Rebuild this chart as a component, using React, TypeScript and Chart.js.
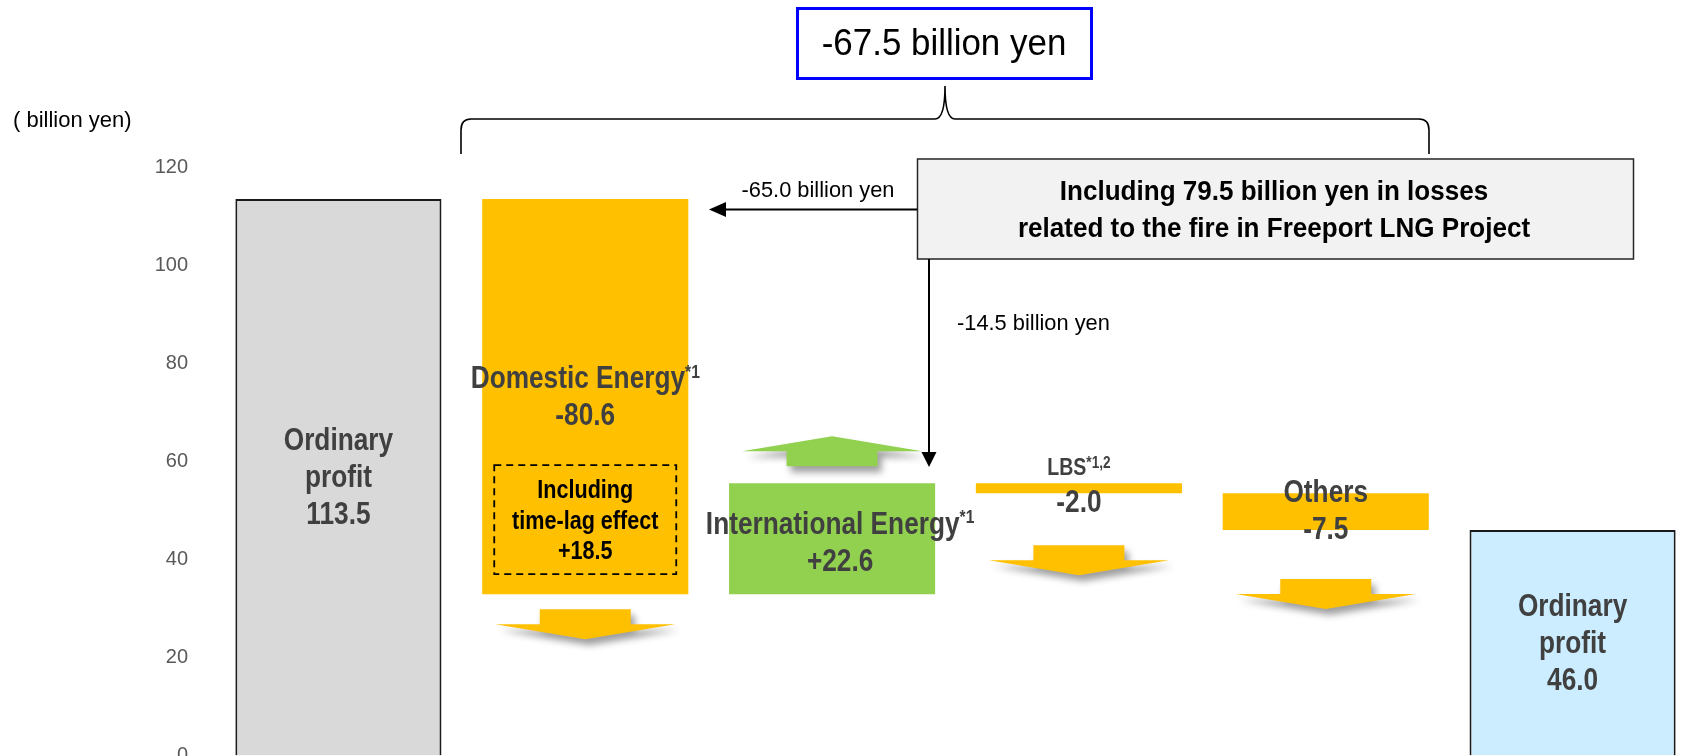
import React, { useEffect, useRef } from 'react';
import { Chart, registerables } from 'chart.js';

Chart.register(...registerables);

// ---------------- data ----------------
const categories = ['Ordinary profit (previous)', 'Domestic Energy', 'International Energy', 'LBS', 'Others', 'Ordinary profit (current)'];
const startProfit = 113.5;
const segmentNames = ['Domestic Energy', 'International Energy', 'LBS', 'Others'];
const segmentNotes = ['*1', '*1', '*1,2', ''];
const segmentDeltas = [-80.6, 22.6, -2.0, -7.5];
const endProfit = 46.0;
const yTickValues = [0, 20, 40, 60, 80, 100, 120];
const freeportSplit = [-65.0, -14.5]; // Domestic, International
const timeLagEffect = 18.5;
const unitLabel = '( billion yen)';

// ---------------- derived ----------------
const fmt = (v: number) => v.toFixed(1);
const signed = (v: number) => (v > 0 ? '+' : '') + v.toFixed(1);
const totalChange = endProfit - startProfit;
const freeportTotal = -(freeportSplit[0] + freeportSplit[1]);

const floating: [number, number][] = [[0, startProfit]];
{
  let run = startProfit;
  for (const d of segmentDeltas) {
    const next = Math.round((run + d) * 10) / 10;
    floating.push([Math.min(run, next), Math.max(run, next)]);
    run = next;
  }
}
floating.push([0, endProfit]);

// ---------------- style ----------------
const FONT = '"Liberation Sans", Arial, Helvetica, sans-serif';
const YELLOW = '#FFC000';
const GREEN = '#92D050';
const LABEL = '#404040';
const barColors = ['#D9D9D9', ...segmentDeltas.map((d) => (d < 0 ? YELLOW : GREEN)), '#CCECFF'];
const barBorders = [2, 0, 0, 0, 0, 2];
const ARROW_GAPS = [15, 17, 52, 49];

function drawText(ctx: CanvasRenderingContext2D, s: string, x: number, y: number, size: number, bold: boolean, color: string, align: CanvasTextAlign = 'center', sx = 1) {
  ctx.save();
  ctx.font = `${bold ? 'bold ' : ''}${size}px ${FONT}`;
  ctx.fillStyle = color;
  ctx.textAlign = align;
  ctx.textBaseline = 'middle';
  ctx.translate(x, y);
  ctx.scale(sx, 1);
  ctx.fillText(s, 0, 0);
  ctx.restore();
}

function textW(ctx: CanvasRenderingContext2D, s: string, size: number, bold: boolean, sx: number) {
  ctx.save();
  ctx.font = `${bold ? 'bold ' : ''}${size}px ${FONT}`;
  const w = ctx.measureText(s).width * sx;
  ctx.restore();
  return w;
}

function drawWithSup(ctx: CanvasRenderingContext2D, main: string, sup: string, cx: number, y: number, size: number, supSize: number, color: string, sx: number) {
  const w1 = textW(ctx, main, size, true, sx);
  const w2 = sup ? textW(ctx, sup, supSize, true, sx) : 0;
  const left = cx - (w1 + w2) / 2;
  drawText(ctx, main, left, y, size, true, color, 'left', sx);
  if (sup) drawText(ctx, sup, left + w1, y - size * 0.22, supSize, true, color, 'left', sx);
}

function blockArrow(ctx: CanvasRenderingContext2D, cx: number, y0: number, dir: number, color: string) {
  const sw = 91, hw = 180, sh = 15, hh = 15;
  ctx.save();
  ctx.shadowColor = 'rgba(0,0,0,0.38)';
  ctx.shadowBlur = 7;
  ctx.shadowOffsetX = 4;
  ctx.shadowOffsetY = 6;
  ctx.fillStyle = color;
  ctx.beginPath();
  ctx.moveTo(cx - sw / 2, y0);
  ctx.lineTo(cx + sw / 2, y0);
  ctx.lineTo(cx + sw / 2, y0 + dir * sh);
  ctx.lineTo(cx + hw / 2, y0 + dir * sh);
  ctx.lineTo(cx, y0 + dir * (sh + hh));
  ctx.lineTo(cx - hw / 2, y0 + dir * sh);
  ctx.lineTo(cx - sw / 2, y0 + dir * sh);
  ctx.closePath();
  ctx.fill();
  ctx.restore();
}

function arrowHead(ctx: CanvasRenderingContext2D, tipX: number, tipY: number, dx: number, dy: number, len: number, half: number) {
  ctx.beginPath();
  ctx.moveTo(tipX, tipY);
  ctx.lineTo(tipX - dx * len - dy * half, tipY - dy * len + dx * half);
  ctx.lineTo(tipX - dx * len + dy * half, tipY - dy * len - dx * half);
  ctx.closePath();
  ctx.fill();
}

const annotations = {
  id: 'waterfallAnnotations',
  afterDatasetsDraw(chart: any) {
    const ctx: CanvasRenderingContext2D = chart.ctx;
    const meta = chart.getDatasetMeta(0);
    const bars = meta.data.map((el: any) => {
      const p = el.getProps(['x', 'y', 'base', 'width'], true);
      return { cx: p.x, w: p.width, top: Math.min(p.y, p.base), bottom: Math.max(p.y, p.base) };
    });

    // block arrows
    segmentDeltas.forEach((d, i) => {
      const b = bars[i + 1];
      if (d < 0) blockArrow(ctx, b.cx, b.bottom + ARROW_GAPS[i], 1, YELLOW);
      else blockArrow(ctx, b.cx, b.top - ARROW_GAPS[i], -1, GREEN);
    });

    const S = 32, SX = 0.82, LH = 37, SUP = 19;
    // totals
    [[0, startProfit], [5, endProfit]].forEach(([idx, v]) => {
      const b = bars[idx];
      const mid = (b.top + b.bottom) / 2 + 1;
      drawText(ctx, 'Ordinary', b.cx, mid - LH, S, true, LABEL, 'center', SX);
      drawText(ctx, 'profit', b.cx, mid, S, true, LABEL, 'center', SX);
      drawText(ctx, fmt(v), b.cx, mid + LH, S, true, LABEL, 'center', SX);
    });

    // Domestic
    {
      const b = bars[1];
      const mid = (b.top + b.bottom) / 2 + 1.5;
      drawWithSup(ctx, segmentNames[0], segmentNotes[0], b.cx, mid - LH / 2, S, SUP, LABEL, SX);
      drawText(ctx, signed(segmentDeltas[0]), b.cx, mid + LH / 2, S, true, LABEL, 'center', SX);
      // dashed box
      ctx.save();
      ctx.strokeStyle = '#000';
      ctx.lineWidth = 1.8;
      ctx.setLineDash([7, 5]);
      ctx.strokeRect(b.cx - 91, b.bottom - 129, 182, 109);
      ctx.restore();
      drawText(ctx, 'Including', b.cx, b.bottom - 103, 26, true, '#000', 'center', 0.83);
      drawText(ctx, 'time-lag effect', b.cx, b.bottom - 72.5, 26, true, '#000', 'center', 0.83);
      drawText(ctx, signed(timeLagEffect), b.cx, b.bottom - 42, 26, true, '#000', 'center', 0.83);
    }
    // International
    {
      const b = bars[2];
      const mid = (b.top + b.bottom) / 2 + 5;
      drawWithSup(ctx, segmentNames[1], segmentNotes[1], b.cx + 8, mid - LH / 2, S, SUP, LABEL, SX);
      drawText(ctx, signed(segmentDeltas[1]), b.cx + 8, mid + LH / 2, S, true, LABEL, 'center', SX);
    }
    // LBS
    {
      const b = bars[3];
      drawWithSup(ctx, segmentNames[2], segmentNotes[2], b.cx, b.top - 15, 23, 16, LABEL, 0.85);
      drawText(ctx, signed(segmentDeltas[2]), b.cx, b.bottom + 10, S, true, LABEL, 'center', SX);
    }
    // Others
    {
      const b = bars[4];
      const mid = (b.top + b.bottom) / 2;
      drawText(ctx, segmentNames[3], b.cx, mid - LH / 2, S, true, LABEL, 'center', SX);
      drawText(ctx, signed(segmentDeltas[3]), b.cx, mid + LH / 2, S, true, LABEL, 'center', SX);
    }

    // unit label
    drawText(ctx, unitLabel, 13, 121, 22, false, '#000', 'left', 1);

    // top total box
    ctx.save();
    ctx.fillStyle = '#fff';
    ctx.fillRect(796, 7.5, 297, 72);
    ctx.strokeStyle = '#0000FF';
    ctx.lineWidth = 3;
    ctx.strokeRect(797.5, 8.5, 294, 70);
    ctx.restore();
    drawText(ctx, `${fmt(totalChange)} billion yen`, 944, 45, 36, false, '#000', 'center', 0.97);

    // brace
    ctx.save();
    ctx.strokeStyle = '#000';
    ctx.lineWidth = 1.6;
    ctx.beginPath();
    ctx.moveTo(461, 154);
    ctx.lineTo(461, 130);
    ctx.quadraticCurveTo(461, 119, 471, 119);
    ctx.lineTo(935, 119);
    ctx.quadraticCurveTo(945, 119, 945, 86);
    ctx.quadraticCurveTo(945, 119, 955, 119);
    ctx.lineTo(1419, 119);
    ctx.quadraticCurveTo(1429, 119, 1429, 130);
    ctx.lineTo(1429, 154);
    ctx.stroke();
    ctx.restore();

    // Freeport box
    ctx.save();
    ctx.fillStyle = '#F2F2F2';
    ctx.fillRect(917, 158.5, 717, 101);
    ctx.strokeStyle = '#262626';
    ctx.lineWidth = 1.5;
    ctx.strokeRect(917.5, 159, 716, 100);
    ctx.restore();
    drawText(ctx, `Including ${fmt(freeportTotal)} billion yen in losses`, 1274, 192, 28, true, '#000', 'center', 0.93);
    drawText(ctx, 'related to the fire in Freeport LNG Project', 1274, 229, 28, true, '#000', 'center', 0.93);

    // split arrows
    ctx.save();
    ctx.strokeStyle = '#000';
    ctx.fillStyle = '#000';
    ctx.lineWidth = 2;
    ctx.beginPath();
    ctx.moveTo(917, 209.5);
    ctx.lineTo(722, 209.5);
    ctx.stroke();
    arrowHead(ctx, 709, 209.5, -1, 0, 17, 7.5);
    ctx.beginPath();
    ctx.moveTo(929, 259);
    ctx.lineTo(929, 454);
    ctx.stroke();
    arrowHead(ctx, 929, 467, 0, 1, 15, 7.5);
    ctx.restore();
    drawText(ctx, `${fmt(freeportSplit[0])} billion yen`, 818, 191, 22.5, false, '#000', 'center', 0.97);
    drawText(ctx, `${fmt(freeportSplit[1])} billion yen`, 957, 324, 22.5, false, '#000', 'left', 0.97);
  },
};

export default function App() {
  const ref = useRef<HTMLCanvasElement>(null);
  useEffect(() => {
    document.body.style.margin = '0';
    const chart = new Chart(ref.current as HTMLCanvasElement, {
      type: 'bar',
      data: {
        labels: categories,
        datasets: [
          {
            data: floating as any,
            backgroundColor: barColors,
            borderColor: '#1a1a1a',
            borderWidth: barBorders,
            borderSkipped: 'bottom',
            categoryPercentage: 1,
            barPercentage: 0.835,
          },
        ],
      },
      options: {
        responsive: false,
        animation: false,
        layout: { padding: { top: 167, bottom: 44.5, left: 0, right: 24 } },
        plugins: { legend: { display: false }, tooltip: { enabled: false } },
        scales: {
          x: { display: false, offset: true, grid: { display: false } },
          y: {
            min: 0,
            max: 120,
            afterFit: (s: any) => {
              s.width = 215;
            },
            afterBuildTicks: (s: any) => {
              s.ticks = yTickValues.map((v) => ({ value: v }));
            },
            ticks: { padding: 27, color: '#595959', font: { size: 20, family: FONT } },
            grid: { display: false, drawTicks: false },
            border: { display: false },
          },
        },
      },
      plugins: [annotations],
    });
    return () => chart.destroy();
  }, []);
  return (
    <div style={{ position: 'fixed', left: 0, top: 0, width: 1685, height: 756, overflow: 'hidden', background: '#fff' }}>
      <canvas ref={ref} width={1720} height={800} style={{ display: 'block', width: 1720, height: 800 }} />
    </div>
  );
}
